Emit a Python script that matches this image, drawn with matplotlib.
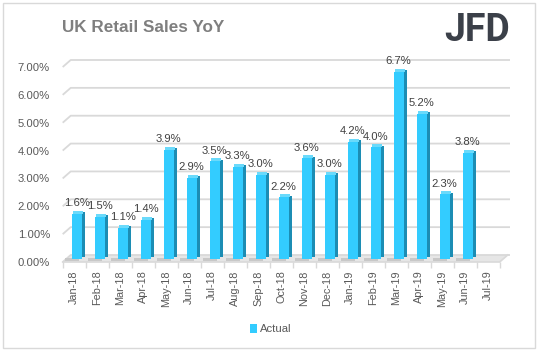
import matplotlib
matplotlib.use("Agg")
import matplotlib.pyplot as plt
from matplotlib.transforms import offset_copy
from matplotlib.patches import Rectangle

categories = ["Jan-18", "Feb-18", "Mar-18", "Apr-18", "May-18", "Jun-18", "Jul-18",
              "Aug-18", "Sep-18", "Oct-18", "Nov-18", "Dec-18", "Jan-19", "Feb-19",
              "Mar-19", "Apr-19", "May-19", "Jun-19", "Jul-19"]
actual = [1.6, 1.5, 1.1, 1.4, 3.9, 2.9, 3.5, 3.3, 3.0, 2.2, 3.6, 3.0, 4.2, 4.0,
          6.7, 5.2, 2.3, 3.8]
value_labels = ["1.6%", "1.5%", "1.1%", "1.4%", "3.9%", "2.9%", "3.5%", "3.3%", "3.0%",
                "2.2%", "3.6%", "3.0%", "4.2%", "4.0%", "6.7%", "5.2%", "2.3%", "3.8%"]
y_ticks = [0, 1, 2, 3, 4, 5, 6, 7]
y_tick_labels = ["0.00%", "1.00%", "2.00%", "3.00%", "4.00%", "5.00%", "6.00%", "7.00%"]

W, H = 541, 354
DPI = 100
fig = plt.figure(figsize=(W / DPI, H / DPI), dpi=DPI)
fig.patch.set_facecolor("white")

FONT = "Liberation Sans"
TXT = "#595959"
GRID = "#D9D9D9"
FS = 7.8

# axes geometry in pixels (front plane)
ax_l, ax_r = 62.7, 499.7
ax_top, ax_bot = 67.0, 262.0
ax = fig.add_axes([ax_l / W, 1 - ax_bot / H, (ax_r - ax_l) / W, (ax_bot - ax_top) / H])
n = len(categories)
ax.set_xlim(0, n)
ax.set_ylim(0, 7)
for s in ax.spines.values():
    s.set_visible(False)
ax.patch.set_alpha(0)

px_x = (ax_r - ax_l) / n          # pixels per x unit
px_y = (ax_bot - ax_top) / 7.0    # pixels per y unit
back_dx, back_dy = 8 / px_x, 7 / px_y

# floor
fx = [0, n, n + back_dx, back_dx]
fy = [0, 0, back_dy, back_dy]
ax.fill(fx, fy, color="#E6E6E6", zorder=0, clip_on=False, lw=0)

# back-wall gridlines with left diagonal
for v in y_ticks:
    ax.plot([0, back_dx, n + back_dx + 0.1], [v, v + back_dy, v + back_dy],
            color=GRID, lw=1.3, zorder=0.5, clip_on=False, solid_capstyle="butt")
# front floor edge and right diagonal
ax.plot([0, n, n + back_dx], [0, 0, back_dy], color=GRID, lw=1.2, zorder=0.6, clip_on=False)

# bars (3D-like)
xs = [i + 0.5 for i in range(len(actual))]
bw = 0.44
t_front = offset_copy(ax.transData, fig=fig, x=2.5, y=3.5, units="dots")
side_w = 3.2 / px_x
top_h = 3.0 / px_y
t_side = offset_copy(ax.transData, fig=fig, x=2.5, y=5.0, units="dots")
t_top = offset_copy(ax.transData, fig=fig, x=4.0, y=3.5, units="dots")

# shadows on floor
t_shadow = offset_copy(ax.transData, fig=fig, x=-2.0, y=1.0, units="dots")
ax.bar(xs, [0.12] * len(actual), width=bw + 0.15, color="#C8C8C8", transform=t_shadow,
       zorder=1, clip_on=False, lw=0)

ax.bar([x + bw / 2 for x in xs], actual, width=side_w, align="edge",
       color="#1C8DB4", transform=t_side, zorder=2, clip_on=False, lw=0)
ax.bar(xs, [top_h] * len(actual), bottom=actual, width=bw, color="#6ADAFB",
       transform=t_top, zorder=2.5, clip_on=False, lw=0)
bars = ax.bar(xs, actual, width=bw, color="#33CCFF", transform=t_front, zorder=3,
              clip_on=False, lw=0, label="Actual")

# value labels
t_lab = offset_copy(ax.transData, fig=fig, x=2.5, y=9.0, units="dots")
for x, v, s in zip(xs, actual, value_labels):
    ax.text(x, v, s, transform=t_lab, ha="center", va="bottom", fontsize=FS + 0.3,
            family=FONT, color="#404040", zorder=5, clip_on=False)

# axes ticks
ax.set_yticks(y_ticks)
ax.set_yticklabels(y_tick_labels, family=FONT, fontsize=FS + 0.3, color=TXT)
ax.tick_params(axis="y", length=0, pad=9.2)

ax.set_xticks(range(n + 1))
ax.set_xticklabels([])
ax.tick_params(axis="x", which="major", length=4, color=GRID, width=1)
ax.set_xticks([i + 0.5 for i in range(n)], minor=True)
ax.set_xticklabels(categories, minor=True, rotation=90, family=FONT, fontsize=FS,
                   color=TXT, va="top", ha="center")
ax.tick_params(axis="x", which="minor", length=0, pad=6)

# title
fig.text(62 / W, 1 - 27.5 / H, "UK Retail Sales YoY", ha="left", va="center",
         fontsize=12.3, fontweight="bold", color="#7F7F7F", family=FONT)
# logo
fig.text(444 / W, 1 - 30.5 / H, "JFD", ha="left", va="center", fontsize=27,
         fontweight="bold", color="#3B4049", family="Roboto")

# legend
fig.legend(handles=[bars], labels=["Actual"], loc="center",
           bbox_to_anchor=(271 / W, 1 - 329 / H), frameon=False,
           prop={"family": FONT, "size": FS + 0.3}, labelcolor=TXT,
           handlelength=0.6, handleheight=0.8, handletextpad=0.3, borderpad=0)

# outer border
fig.patches.append(Rectangle((3 / W, 1 - 348 / H), 532 / W, 345 / H,
                             transform=fig.transFigure, fill=False,
                             edgecolor="#D9D9D9", lw=1))

fig.savefig("out.png", dpi=DPI, facecolor="white")
